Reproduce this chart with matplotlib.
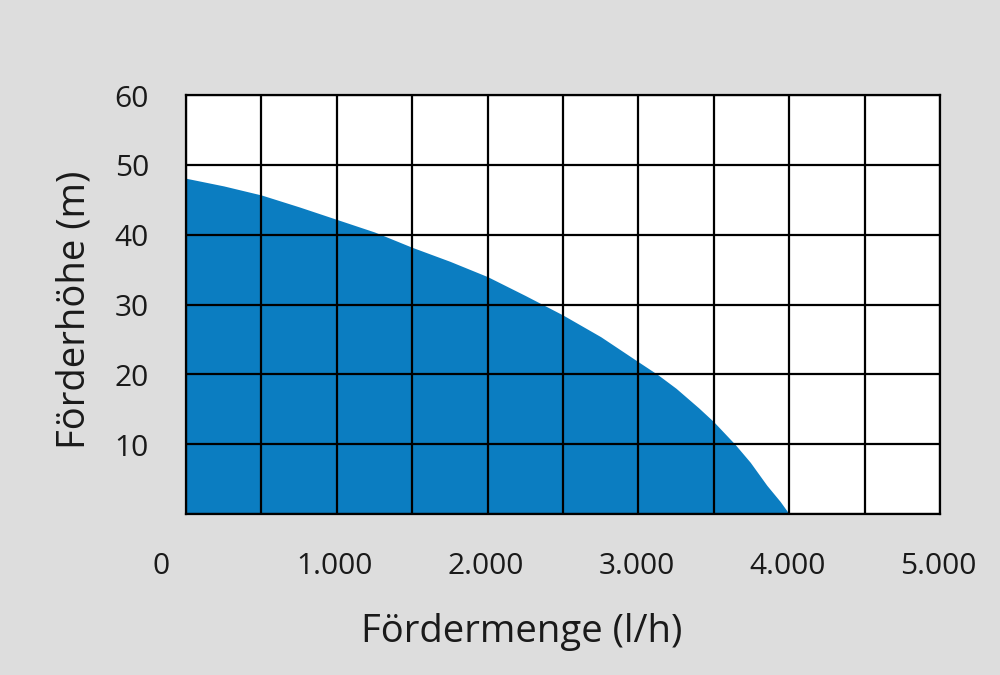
# -*- coding: utf-8 -*-
from matplotlib import pyplot as plt
import numpy as np

# curve (flow l/h, head m)
flow = [0, 250, 500, 750, 1000, 1250, 1500, 1750, 2000, 2250, 2500, 2750,
        3000, 3126, 3250, 3400, 3500, 3640, 3742, 3852, 3940, 4000]
head = [48.1, 47.0, 45.7, 44.0, 42.2, 40.4, 38.2, 36.2, 34.0, 31.3, 28.5, 25.4,
        21.8, 20.0, 18.0, 15.2, 13.2, 10.0, 7.4, 4.1, 1.8, 0.0]

x_ticks = [0, 1000, 2000, 3000, 4000, 5000]
x_labels = ["0", "1.000", "2.000", "3.000", "4.000", "5.000"]
y_ticks = [10, 20, 30, 40, 50, 60]
y_labels = ["10", "20", "30", "40", "50", "60"]

plt.rcParams['font.family'] = ['Open Sans', 'DejaVu Sans']

bg = "#dddddd"
blue = "#0b7dc1"

fig = plt.figure(figsize=(10, 6.75), dpi=100, facecolor=bg)
ax = fig.add_axes([0.186, 0.2385, 0.754, 0.6205])
ax.set_facecolor("white")

ax.fill_between(flow, head, 0, color=blue, lw=0, zorder=1)

ax.set_xlim(0, 5000)
ax.set_ylim(0, 60)
ax.set_xticks(np.arange(0, 5001, 500))
ax.set_yticks(np.arange(0, 61, 10))
ax.grid(True, color="black", lw=1.6, zorder=2)
ax.set_axisbelow(False)
ax.tick_params(length=0, labelbottom=False, labelleft=False)
for s in ax.spines.values():
    s.set_color("black")
    s.set_linewidth(1.6)

# x tick labels, "0" sits a bit left of the axis start
for v, lab in zip(x_ticks, x_labels):
    dx = -25 if v == 0 else -2
    ax.annotate(lab, xy=(v, 0), xycoords=("data", "axes fraction"),
                xytext=(dx, -52), textcoords="offset pixels",
                ha="center", va="center", fontsize=21.5, color="#1a1a1a")

for v, lab in zip(y_ticks, y_labels):
    ax.annotate(lab, xy=(0, v), xycoords=("axes fraction", "data"),
                xytext=(-37, -4), textcoords="offset pixels",
                ha="right", va="center", fontsize=21.5, color="#1a1a1a")

fig.text(0.522, 1 - 632 / 675, "Fördermenge (l/h)", ha="center", va="center",
         fontsize=27.5, color="#1a1a1a")
fig.text(0.075, 1 - 310 / 675, "Förderhöhe (m)", ha="center", va="center",
         rotation=90, fontsize=27.5, color="#1a1a1a")

fig.savefig("out.png", dpi=100, facecolor=bg)
